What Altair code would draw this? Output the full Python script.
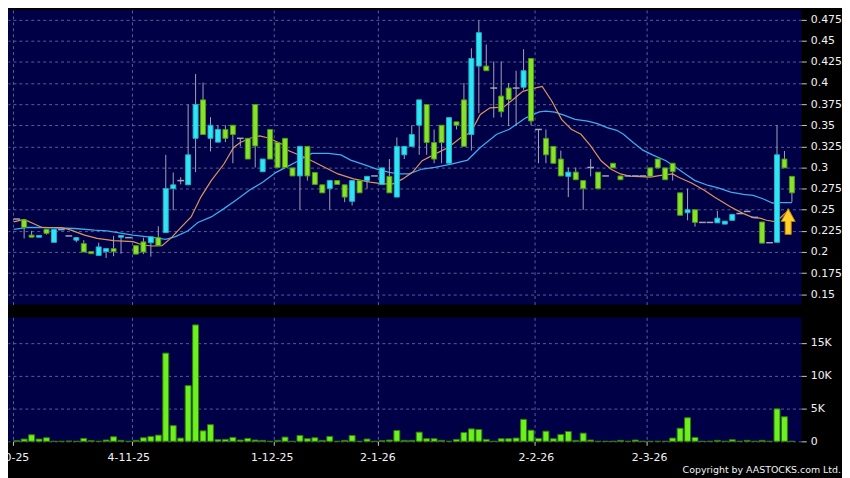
import altair as alt
import pandas as pd

# ---------------- data ----------------
opens = [0.239, 0.238, 0.220, 0.2175, 0.227, 0.2115, 0.2265, 0.219, 0.214, 0.210,
         0.2005, 0.196, 0.2005, 0.204, 0.2175, 0.217, 0.2075, 0.212, 0.211, 0.217,
         0.223, 0.275, 0.2845, 0.2795, 0.3345, 0.380, 0.3345, 0.330, 0.345, 0.350,
         0.3345, 0.3345, 0.3745, 0.295, 0.345, 0.3295, 0.3345, 0.2995, 0.290, 0.325,
         0.294, 0.2795, 0.275, 0.2845, 0.2795, 0.260, 0.2845, 0.2845, 0.290, 0.280,
         0.2895, 0.265, 0.315, 0.325, 0.350, 0.3745, 0.3295, 0.350, 0.305, 0.354,
         0.380, 0.339, 0.420, 0.420, 0.394, 0.3845, 0.394, 0.394, 0.395, 0.429,
         0.345, 0.3345, 0.325, 0.310, 0.2895, 0.2945, 0.2845, 0.300, 0.2945, 0.290,
         0.305, 0.290, 0.290, 0.290, 0.290, 0.2995, 0.310, 0.2995, 0.305, 0.270,
         0.2465, 0.250, 0.235, 0.235, 0.2345, 0.233, 0.2375, 0.2455, 0.248, 0.241,
         0.2355, 0.211, 0.2115, 0.310, 0.2895]
highs = [0.239, 0.238, 0.225, 0.2195, 0.227, 0.2267, 0.2265, 0.219, 0.2175, 0.214,
         0.2005, 0.211, 0.204, 0.219, 0.2195, 0.217, 0.2075, 0.217, 0.218, 0.2305,
         0.315, 0.294, 0.2885, 0.3745, 0.4105, 0.4005, 0.3595, 0.350, 0.350, 0.350,
         0.3345, 0.3345, 0.3745, 0.310, 0.345, 0.3295, 0.3345, 0.2995, 0.325, 0.325,
         0.294, 0.2795, 0.2845, 0.2845, 0.2795, 0.2845, 0.2845, 0.2895, 0.290, 0.2995,
         0.310, 0.3355, 0.325, 0.350, 0.380, 0.3745, 0.345, 0.350, 0.359, 0.354,
         0.400, 0.441, 0.474, 0.4455, 0.4255, 0.4255, 0.400, 0.4145, 0.440, 0.429,
         0.345, 0.345, 0.325, 0.320, 0.300, 0.300, 0.2845, 0.310, 0.2945, 0.290,
         0.305, 0.290, 0.290, 0.290, 0.290, 0.2995, 0.310, 0.2995, 0.305, 0.270,
         0.275, 0.250, 0.235, 0.235, 0.2485, 0.2365, 0.2445, 0.2455, 0.248, 0.241,
         0.2355, 0.211, 0.350, 0.3195, 0.2895]
lows = [0.239, 0.216, 0.2175, 0.2175, 0.2205, 0.2115, 0.2265, 0.219, 0.2115, 0.200,
        0.198, 0.196, 0.193, 0.195, 0.198, 0.217, 0.1975, 0.1975, 0.1945, 0.2075,
        0.223, 0.2495, 0.280, 0.2795, 0.2945, 0.339, 0.319, 0.330, 0.330, 0.305,
        0.325, 0.310, 0.300, 0.295, 0.310, 0.300, 0.300, 0.290, 0.250, 0.2845,
        0.280, 0.270, 0.250, 0.280, 0.259, 0.255, 0.270, 0.275, 0.290, 0.280,
        0.270, 0.265, 0.310, 0.325, 0.315, 0.315, 0.305, 0.305, 0.305, 0.345,
        0.325, 0.320, 0.3645, 0.4145, 0.359, 0.3595, 0.349, 0.349, 0.392, 0.350,
        0.305, 0.305, 0.305, 0.290, 0.265, 0.2855, 0.250, 0.2895, 0.275, 0.290,
        0.2995, 0.2855, 0.290, 0.290, 0.290, 0.2895, 0.2995, 0.2855, 0.2845, 0.2435,
        0.2375, 0.230, 0.235, 0.235, 0.2345, 0.233, 0.2375, 0.2455, 0.248, 0.241,
        0.2105, 0.211, 0.2115, 0.2995, 0.259]
closes = [0.239, 0.229, 0.2175, 0.2195, 0.222, 0.2267, 0.2265, 0.219, 0.217, 0.200,
          0.198, 0.206, 0.204, 0.2005, 0.2195, 0.217, 0.1975, 0.200, 0.218, 0.2075,
          0.275, 0.2795, 0.2845, 0.315, 0.3745, 0.339, 0.350, 0.345, 0.3345, 0.339,
          0.3345, 0.310, 0.3255, 0.310, 0.310, 0.300, 0.300, 0.290, 0.325, 0.290,
          0.280, 0.270, 0.2845, 0.280, 0.265, 0.2845, 0.270, 0.2895, 0.290, 0.2995,
          0.270, 0.325, 0.325, 0.339, 0.380, 0.3295, 0.310, 0.3295, 0.359, 0.350,
          0.325, 0.429, 0.4595, 0.4145, 0.394, 0.366, 0.3805, 0.394, 0.4145, 0.355,
          0.345, 0.315, 0.305, 0.290, 0.2945, 0.2855, 0.275, 0.300, 0.275, 0.290,
          0.2995, 0.2855, 0.290, 0.290, 0.290, 0.2895, 0.2995, 0.2855, 0.295, 0.2435,
          0.250, 0.235, 0.235, 0.235, 0.240, 0.2365, 0.2445, 0.2455, 0.248, 0.241,
          0.2105, 0.211, 0.315, 0.2995, 0.270]
volumes = [100, 350, 1000, 350, 550, 0, 0, 50, 0, 450,
           100, 0, 200, 700, 150, 0, 150, 550, 750, 950,
           13450, 2400, 500, 8500, 17750, 1600, 2550, 250, 300, 600,
           200, 450, 200, 150, 0, 150, 650, 0, 900, 400,
           550, 150, 750, 0, 150, 900, 0, 350, 0, 100,
           200, 1650, 150, 150, 1400, 400, 400, 150, 0, 300,
           1350, 1900, 1800, 300, 0, 400, 400, 500, 3350, 1700,
           450, 1550, 400, 1050, 1500, 150, 1250, 200, 0, 0,
           0, 150, 0, 200, 0, 0, 0, 0, 500, 2000,
           3600, 600, 0, 0, 150, 0, 250, 0, 150, 0,
           150, 0, 4950, 3750, 0]

# moving averages (position in trading-day index, value)
ma_short_pos = [0.6, 2.0, 4.4, 7.0, 8.3, 10.1, 11.8, 14.0, 16.6, 17.9, 19.2, 20.5, 21.8,
                23.1, 24.4, 25.7, 27.1, 28.8, 30.1, 31.0, 32.3, 33.6, 34.9, 36.6, 37.5,
                39.7, 41.9, 44.1, 46.2, 48.4, 50.2, 51.5, 52.8, 54.1, 55.4, 57.1, 58.9,
                60.6, 61.9, 63.2, 64.5, 66.3, 67.6, 68.9, 70.2, 71.5, 72.8, 74.1, 75.4,
                76.7, 78.0, 79.4, 80.7, 82.0, 83.3, 84.6, 86.0, 87.2, 89.0, 89.8, 91.6,
                93.3, 94.6, 96.8, 98.5, 99.8, 100.7, 101.6, 102.9, 103.8, 104.6]
ma_short_val = [0.2356, 0.2385, 0.2290, 0.2290, 0.2259, 0.2200, 0.2161, 0.2134, 0.2122,
                0.2083, 0.2071, 0.2075, 0.2173, 0.2298, 0.2415, 0.2650, 0.2845, 0.3041,
                0.3237, 0.3295, 0.3346, 0.3373, 0.3346, 0.3276, 0.3197, 0.3119, 0.3021,
                0.2924, 0.2865, 0.2826, 0.2806, 0.2806, 0.2865, 0.2943, 0.3080, 0.3158,
                0.3237, 0.3354, 0.3413, 0.3628, 0.3706, 0.3714, 0.3804, 0.3901, 0.3933,
                0.3960, 0.3784, 0.3569, 0.3452, 0.3393, 0.3256, 0.3080, 0.2982, 0.2924,
                0.2896, 0.2892, 0.2885, 0.2904, 0.2924, 0.2885, 0.2814, 0.2728, 0.2650,
                0.2533, 0.2454, 0.2407, 0.2400, 0.2376, 0.2357, 0.2435, 0.2494]
ma_long_pos = [0.6, 2.5, 4.4, 8.8, 11.4, 13.1, 16.6, 19.2, 21.0, 22.3, 24.0, 25.3, 27.1,
               28.8, 30.5, 32.3, 34.0, 35.8, 37.1, 38.8, 40.6, 42.8, 44.5, 45.8, 47.6,
               49.3, 51.0, 52.3, 53.6, 55.4, 57.1, 59.3, 61.5, 63.2, 65.4, 67.1, 69.3,
               71.1, 72.0, 73.2, 74.5, 75.9, 77.6, 78.9, 80.2, 81.5, 82.4, 83.7, 85.0,
               86.3, 88.1, 89.4, 90.7, 92.0, 93.8, 95.1, 96.8, 98.5, 99.8, 101.1, 102.4,
               103.4, 105.0]
ma_long_val = [0.2267, 0.2291, 0.2290, 0.2278, 0.2259, 0.2251, 0.2200, 0.2173, 0.2149,
               0.2181, 0.2251, 0.2349, 0.2415, 0.2513, 0.2619, 0.2736, 0.2826, 0.2943,
               0.3002, 0.3080, 0.3166, 0.3166, 0.3150, 0.3088, 0.3033, 0.2982, 0.2943,
               0.2924, 0.2924, 0.2982, 0.3002, 0.3041, 0.3088, 0.3237, 0.3393, 0.3452,
               0.3588, 0.3659, 0.3667, 0.3655, 0.3616, 0.3569, 0.3549, 0.3518, 0.3471,
               0.3440, 0.3393, 0.3295, 0.3205, 0.3150, 0.3080, 0.3002, 0.2924, 0.2845,
               0.2787, 0.2759, 0.2709, 0.2681, 0.2670, 0.2630, 0.2580, 0.2584, 0.2584]

signal_pos = [104.5]
signal_val = [0.2361]

tick_pos = [0.5, 16.5, 35.5, 49.5, 70.5, 85.5]
tick_labels = ["2-10-25", "4-11-25", "1-12-25", "2-1-26", "2-2-26", "2-3-26"]
price_ticks = [0.15, 0.175, 0.2, 0.225, 0.25, 0.275, 0.3, 0.325, 0.35, 0.375,
               0.4, 0.425, 0.45, 0.475]
vol_ticks = [0, 5000, 10000, 15000]
copyright_text = ["Copyright by AASTOCKS.com Ltd."]

# ---------------- tables ----------------
df = pd.DataFrame({"i": list(range(1, len(opens) + 1)), "o": opens, "h": highs,
                   "l": lows, "c": closes, "v": volumes})
ma_s = pd.DataFrame({"pos": ma_short_pos, "val": ma_short_val})
ma_l = pd.DataFrame({"pos": ma_long_pos, "val": ma_long_val})
sig = pd.DataFrame({"pos": signal_pos, "val": signal_val})
labels_df = pd.DataFrame({"pos": tick_pos, "label": tick_labels})
copy_df = pd.DataFrame({"t": copyright_text})

# ---------------- styles ----------------
FONT = "DejaVu Sans"
NAVY = "#000046"
GRID = "#5c5c98"
TXT = "#f2f2f2"
CYAN = "#30e4f4"
CYAN_S = "#1fb2c6"
GREEN = "#88e22c"
GREEN_S = "#4e9c14"
VGREEN = "#6cf01e"
VGREEN_S = "#2f7a0a"
WICK = "#a4a4b8"
ORANGE = "#e0925a"
BLUE = "#3cacec"
W = 800

xs = alt.Scale(domain=[0.5, 105.6], nice=False, zero=False)
ys = alt.Scale(domain=[0.1379, 0.4864], nice=False, zero=False)
vs = alt.Scale(domain=[0, 18900], nice=False, zero=False)

def xgrid(ticks=False):
    return alt.Axis(values=tick_pos, labels=False, ticks=ticks, tickSize=4,
                    tickColor="#c8c8c8", domain=False, grid=True, gridColor=GRID,
                    gridDash=[3, 3], title=None)

price_axis = alt.Axis(orient="right", values=price_ticks, title=None,
                      labelExpr="format(datum.value, '.3~f')",
                      domain=False, ticks=True, tickSize=5, tickColor="#c8c8c8",
                      labelPadding=4, grid=True, gridColor=GRID, gridDash=[3, 3],
                      labelColor=TXT, labelFont=FONT, labelFontSize=11)

X = lambda f: alt.X(f, scale=xs, axis=xgrid())
Y = lambda f: alt.Y(f, scale=ys, axis=price_axis)

line_s = alt.Chart(ma_s).mark_line(color=ORANGE, strokeWidth=1.2).encode(
    x=X("pos:Q"), y=Y("val:Q"))
line_l = alt.Chart(ma_l).mark_line(color=BLUE, strokeWidth=1.3).encode(
    x=X("pos:Q"), y=Y("val:Q"))

wicks = alt.Chart(df).mark_rule(color=WICK, strokeWidth=1).encode(
    x=X("i:Q"), y=Y("l:Q"), y2="h:Q")

bodies = alt.Chart(df).transform_filter("datum.o != datum.c").transform_calculate(
    dir="datum.c > datum.o ? 'up' : 'down'"
).mark_bar(size=5, strokeWidth=1, orient="vertical").encode(
    x=X("i:Q"), y=Y("o:Q"), y2="c:Q",
    fill=alt.Fill("dir:N", scale=alt.Scale(domain=["up", "down"], range=[CYAN, GREEN]), legend=None),
    stroke=alt.Stroke("dir:N", scale=alt.Scale(domain=["up", "down"], range=[CYAN_S, GREEN_S]), legend=None),
)

dojis = alt.Chart(df).transform_filter("datum.o == datum.c").transform_calculate(
    xl="datum.i - 0.45", xr="datum.i + 0.45"
).mark_rule(color=WICK, strokeWidth=1.5).encode(
    x=X("xl:Q"), x2="xr:Q", y=Y("o:Q"))

ARROW = "M0,-1L0.55,0L0.24,0L0.24,1L-0.24,1L-0.24,0L-0.55,0Z"
arrow = alt.Chart(sig).mark_point(shape=ARROW, size=676, filled=True, fill="#ffd02a",
                                  stroke="#b07a00", strokeWidth=1, opacity=1).encode(
    x=X("pos:Q"), y=Y("val:Q"))

price = alt.layer(line_l, line_s, wicks, bodies, dojis, arrow).properties(
    width=W, height=297, view=alt.ViewBackground(fill=NAVY, strokeWidth=0))

vol_axis = alt.Axis(orient="right", values=vol_ticks, title=None, domain=False,
                    labelExpr="datum.value == 0 ? '0' : (datum.value / 1000) + 'K'",
                    ticks=True, tickSize=5, tickColor="#c8c8c8", labelPadding=4,
                    grid=True, gridColor=GRID, gridDash=[3, 3],
                    labelColor=TXT, labelFont=FONT, labelFontSize=11)

volume = alt.Chart(df).mark_bar(size=6, color=VGREEN, stroke=VGREEN_S, strokeWidth=1,
                                orient="vertical").encode(
    x=alt.X("i:Q", scale=xs, axis=xgrid(ticks=True)),
    y=alt.Y("v:Q", scale=vs, axis=vol_axis),
).properties(width=W, height=125, view=alt.ViewBackground(fill=NAVY, strokeWidth=0))

date_labels = alt.Chart(labels_df).mark_text(
    clip=True, color=TXT, font=FONT, fontSize=11, align="center", baseline="middle"
).encode(x=alt.X("pos:Q", scale=xs, axis=None), y=alt.value(12), text="label:N")

copyright_mark = alt.Chart(copy_df).mark_text(
    color=TXT, font=FONT, fontSize=9.5, align="right", baseline="middle"
).encode(x=alt.value(840), y=alt.value(24), text="t:N")

label_panel = alt.layer(date_labels, copyright_mark).properties(
    width=W, height=30, view=alt.ViewBackground(strokeWidth=0))

inner = alt.vconcat(price, volume, spacing=13)
chart = alt.vconcat(inner, label_panel, spacing=0).properties(
    background="#000000", padding=0,
    usermeta={"embedOptions": {"defaultStyle": "body{background:#000000;}"}},
).configure_view(strokeWidth=0)

chart.save("out.html", embed_options={"renderer": "svg", "actions": False})
